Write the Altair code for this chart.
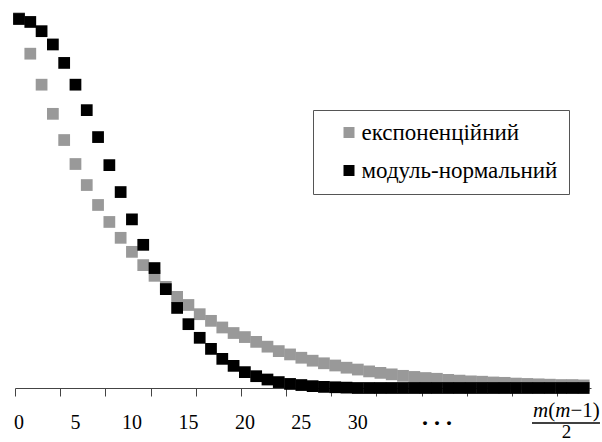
import altair as alt
import pandas as pd

# ---- data ----
k_values = list(range(51))
series_names = ["експоненційний", "модуль-нормальний"]
exp_vals = [1.002, 0.906, 0.822, 0.743, 0.672, 0.607, 0.550, 0.496, 0.450, 0.407,
            0.369, 0.333, 0.304, 0.274, 0.247, 0.225, 0.200, 0.182, 0.164, 0.149,
            0.138, 0.125, 0.112, 0.100, 0.091, 0.082, 0.074, 0.067, 0.061, 0.055,
            0.050, 0.045, 0.041, 0.037, 0.033, 0.030, 0.027, 0.025, 0.022, 0.020,
            0.018, 0.017, 0.015, 0.014, 0.012, 0.011, 0.010, 0.009, 0.008, 0.008,
            0.007]
hn_vals = [1.000, 0.992, 0.967, 0.931, 0.881, 0.822, 0.753, 0.680, 0.604, 0.531,
           0.457, 0.388, 0.325, 0.268, 0.217, 0.173, 0.136, 0.106, 0.079, 0.060,
           0.043, 0.032, 0.023, 0.016, 0.011, 0.008, 0.005, 0.003, 0.002, 0.001,
           0.0, 0.0, 0.0, 0.0, 0.0, 0.0, 0.0, 0.0, 0.0, 0.0,
           0.0, 0.0, 0.0, 0.0, 0.0, 0.0, 0.0, 0.0, 0.0, 0.0,
           0.0]
colors = ["#999999", "#000000"]
tick_boundaries = [k - 0.354 for k in range(52)]   # category boundaries
label_values = [0, 5, 10, 15, 20, 25, 30]
label_texts = ["0", "5", "10", "15", "20", "25", "30"]
dots_label = ". . ."
dots_at = 37
frac_num_pieces = ["m", "(", "m", "−1)"]
frac_num_italic = ["italic", "normal", "italic", "normal"]
frac_num_dx = [-33.5, -18.3, -11.3, 3.9]
frac_den = "2"
frac_at = 48.48
frac_bar = [45.42, 51.44]

rows = []
for name, vals in zip(series_names, [exp_vals, hn_vals]):
    for k, v in zip(k_values, vals):
        rows.append({"k": k, "p": v, "series": name})
df = pd.DataFrame(rows)

xscale = alt.Scale(domain=[-0.354, 50.646], nice=False, zero=False)
yscale = alt.Scale(domain=[0, 1.0515], nice=False, zero=False)
FONT = "Liberation Serif"

points = alt.Chart(df).mark_square(size=138, opacity=1, strokeWidth=0).encode(
    x=alt.X("k:Q", scale=xscale,
            axis=alt.Axis(values=tick_boundaries, title=None, grid=False,
                          domainColor="#444", tickColor="#444", tickSize=8,
                          domainWidth=1, tickWidth=1, labels=False)),
    y=alt.Y("p:Q", scale=yscale, axis=None),
    color=alt.Color("series:N",
                    scale=alt.Scale(domain=series_names, range=colors),
                    legend=alt.Legend(orient="none", legendX=298, legendY=110,
                                      title=None, symbolType="square",
                                      symbolSize=121, symbolStrokeWidth=0,
                                      symbolOpacity=1, labelFont=FONT,
                                      labelFontSize=23, labelColor="black",
                                      padding=11, strokeColor="#555",
                                      fillColor="white", rowPadding=14,
                                      symbolOffset=13.5, labelOffset=1,
                                      labelExpr="datum.label + '\u00a0\u00a0'",
                                      labelLimit=400)),
)

tick_labels = alt.Chart(pd.DataFrame({"k": label_values, "t": label_texts})).mark_text(
    font=FONT, fontSize=20, align="center", baseline="alphabetic", color="black"
).encode(x=alt.X("k:Q", scale=xscale), y=alt.value(429), text="t:N")

dots = alt.Chart(pd.DataFrame({"k": [dots_at], "t": [dots_label]})).mark_text(
    font=FONT, fontSize=24, fontWeight="bold", align="center", baseline="alphabetic",
    color="black").encode(x=alt.X("k:Q", scale=xscale), y=alt.value(425), text="t:N")

num_layers = []
for piece, style, dx in zip(frac_num_pieces, frac_num_italic, frac_num_dx):
    num_layers.append(
        alt.Chart(pd.DataFrame({"k": [frac_at], "t": [piece]})).mark_text(
            font=FONT, fontSize=21, fontStyle=style, align="left",
            baseline="alphabetic", dx=dx, color="black").encode(
            x=alt.X("k:Q", scale=xscale), y=alt.value(417), text="t:N"))

den = alt.Chart(pd.DataFrame({"k": [frac_at], "t": [frac_den]})).mark_text(
    font=FONT, fontSize=19, align="center", baseline="alphabetic",
    color="black").encode(x=alt.X("k:Q", scale=xscale), y=alt.value(437.5), text="t:N")

bar = alt.Chart(pd.DataFrame({"k": [frac_bar[0]], "k2": [frac_bar[1]]})).mark_rule(
    color="black", strokeWidth=1.3).encode(
    x=alt.X("k:Q", scale=xscale), x2="k2:Q", y=alt.value(423))

chart = alt.layer(points, tick_labels, dots, *num_layers, den, bar).properties(
    width=576, height=388,
    padding={"left": 15, "top": 0, "right": 11, "bottom": 54},
    autosize=alt.AutoSizeParams(type="none"),
    background="white",
).configure_view(stroke=None)

chart.save("out.html", embed_options={"renderer": "svg", "actions": False})
